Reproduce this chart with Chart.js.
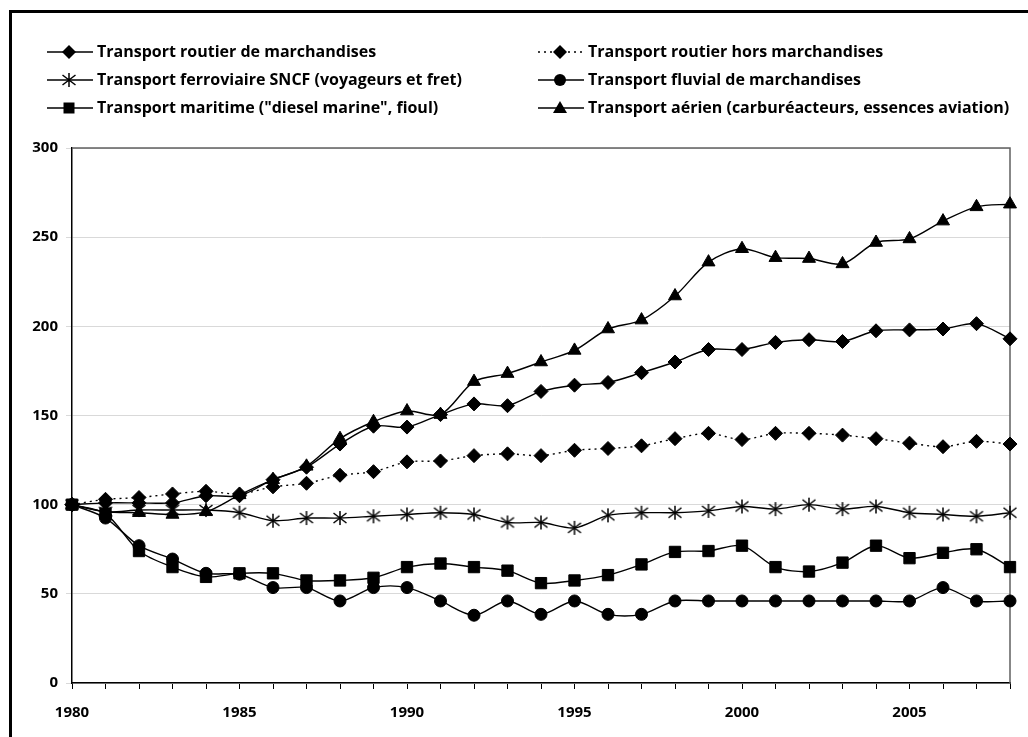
<!DOCTYPE html>
<html lang="fr">
<head>
<meta charset="utf-8">
<title>Consommation d'énergie des transports (base 100 en 1980)</title>
<script src="https://cdn.jsdelivr.net/npm/chart.js@4.4.1/dist/chart.umd.min.js"></script>
<style>
  body { margin: 0; background: #fff; }
  canvas { display: block; }
</style>
</head>
<body>
<canvas id="grafico" width="1028" height="737"></canvas>
<script>
// Années (catégories de l'axe horizontal)
const annees = [1980, 1981, 1982, 1983, 1984, 1985, 1986, 1987, 1988, 1989,
  1990, 1991, 1992, 1993, 1994, 1995, 1996, 1997, 1998, 1999,
  2000, 2001, 2002, 2003, 2004, 2005, 2006, 2007, 2008];

// Indices base 100 en 1980
const routierMarchandises = [100, 101, 101, 101, 105, 105, 114, 121, 134, 144,
  143.5, 150.5, 156.5, 155.5, 163.5, 167, 168.5, 174, 180, 187,
  187, 191, 192.5, 191.5, 197.5, 198, 198.5, 201.5, 193];
const routierHorsMarchandises = [100, 103, 104, 106, 107.5, 106, 110, 112, 116.5, 118.5,
  124, 124.5, 127.5, 128.5, 127.5, 130.5, 131.5, 133, 137, 140,
  136.5, 140, 140, 139, 137, 134.5, 132.5, 135.5, 134];
const ferroviaireSNCF = [100, 96, 97, 97, 97, 95.5, 91, 92.5, 92.5, 93.5,
  94.5, 95.5, 94.5, 90, 90, 87, 94, 95.5, 95.5, 96.5,
  99, 97.5, 100, 97.5, 99, 95.5, 94.5, 93.5, 95.5];
const fluvialMarchandises = [100, 92.5, 77, 69.5, 61.5, 61, 53.5, 53.5, 46, 53.5,
  53.5, 46, 38, 46, 38.5, 46, 38.5, 38.5, 46, 46,
  46, 46, 46, 46, 46, 46, 53.5, 46, 46];
const maritime = [100, 95, 74, 65, 59.5, 61.5, 61.5, 57.5, 57.5, 59,
  65, 67, 65, 63, 56, 57.5, 60.5, 66.5, 73.5, 74,
  77, 65, 62.5, 67.5, 77, 70, 73, 75, 65];
const aerien = [100, 96, 95.5, 94.5, 96, 105.5, 114, 121.5, 137, 146.5,
  152.5, 150.5, 169, 173.5, 180, 186.5, 198.5, 203.5, 217, 236,
  243.5, 238.5, 238, 235, 247, 249, 259, 267, 268.5];

const famille = "'Open Sans', 'DejaVu Sans', sans-serif";
const police = { family: famille, size: 15, weight: 'bold' };

// Astérisque (pas de style équivalent dans Chart.js)
function creerEtoile() {
  const c = document.createElement('canvas');
  c.width = 16; c.height = 16;
  const g = c.getContext('2d');
  g.strokeStyle = '#000';
  g.lineWidth = 1.5;
  g.beginPath();
  g.moveTo(8, 1); g.lineTo(8, 15);
  g.moveTo(1.5, 3); g.lineTo(14.5, 13);
  g.moveTo(14.5, 3); g.lineTo(1.5, 13);
  g.stroke();
  return c;
}
const etoile = creerEtoile();

function serie(label, valeurs, style, rayon, pointilles) {
  return {
    label: label,
    data: valeurs,
    borderColor: '#000',
    borderWidth: 1.4,
    borderDash: pointilles ? [2, 4] : [],
    tension: 0.3,
    pointStyle: style,
    pointRadius: rayon,
    pointHoverRadius: rayon,
    pointBackgroundColor: '#000',
    pointBorderColor: '#000',
    pointBorderWidth: 1,
    fill: false
  };
}

// Légende sur deux colonnes, dessinée à la main
function dessinerMarqueur(ctx, style, x, y) {
  ctx.save();
  ctx.fillStyle = '#000';
  ctx.setLineDash([]);
  ctx.beginPath();
  if (style === 'rectRot') {
    ctx.moveTo(x, y - 7); ctx.lineTo(x + 7, y); ctx.lineTo(x, y + 7); ctx.lineTo(x - 7, y);
    ctx.closePath(); ctx.fill();
  } else if (style === 'circle') {
    ctx.arc(x, y, 6, 0, Math.PI * 2); ctx.fill();
  } else if (style === 'rect') {
    ctx.rect(x - 5.5, y - 5.5, 11, 11); ctx.fill();
  } else if (style === 'triangle') {
    ctx.moveTo(x, y - 7); ctx.lineTo(x + 7, y + 5); ctx.lineTo(x - 7, y + 5);
    ctx.closePath(); ctx.fill();
  } else {
    ctx.drawImage(style, x - 8, y - 8);
  }
  ctx.restore();
}

const habillage = {
  id: 'habillage',
  beforeDraw(chart) {
    const ctx = chart.ctx;
    ctx.save();
    ctx.fillStyle = '#fff';
    ctx.fillRect(0, 0, chart.width, chart.height);
    ctx.restore();
  },
  beforeDatasetsDraw(chart) {
    const ctx = chart.ctx;
    const a = chart.chartArea;
    ctx.save();
    ctx.strokeStyle = '#606060';
    ctx.lineWidth = 1.5;
    ctx.beginPath();
    ctx.moveTo(a.left, a.top);
    ctx.lineTo(a.right, a.top);
    ctx.lineTo(a.right, a.bottom);
    ctx.stroke();
    ctx.restore();
  },
  afterDraw(chart) {
    const ctx = chart.ctx;
    ctx.save();
    // cadre extérieur
    ctx.strokeStyle = '#000';
    ctx.lineWidth = 3;
    ctx.beginPath();
    ctx.moveTo(10.5, chart.height + 5);
    ctx.lineTo(10.5, 11.5);
    ctx.lineTo(chart.width + 5, 11.5);
    ctx.stroke();

    const positions = [[47, 52], [538, 52], [47, 80], [538, 80], [47, 108], [538, 108]];
    ctx.font = 'bold 16px ' + famille;
    ctx.textBaseline = 'middle';
    chart.data.datasets.forEach((ds, i) => {
      const [x, y] = positions[i];
      ctx.strokeStyle = '#000';
      ctx.lineWidth = 1.4;
      ctx.setLineDash(ds.borderDash);
      ctx.beginPath();
      ctx.moveTo(x, y);
      ctx.lineTo(x + 46, y);
      ctx.stroke();
      dessinerMarqueur(ctx, ds.pointStyle, x + 22, y);
      ctx.fillStyle = '#000';
      ctx.fillText(ds.label, x + 50, y);
    });
    ctx.restore();
  }
};

new Chart(document.getElementById('grafico'), {
  type: 'line',
  data: {
    labels: annees,
    datasets: [
      serie('Transport routier de marchandises', routierMarchandises, 'rectRot', 7, false),
      serie('Transport routier hors marchandises', routierHorsMarchandises, 'rectRot', 7, true),
      serie('Transport ferroviaire SNCF (voyageurs et fret)', ferroviaireSNCF, etoile, 8, false),
      serie('Transport fluvial de marchandises', fluvialMarchandises, 'circle', 6, false),
      serie('Transport maritime ("diesel marine", fioul)', maritime, 'rect', 8, false),
      serie('Transport aérien (carburéacteurs, essences aviation)', aerien, 'triangle', 7.5, false)
    ]
  },
  options: {
    responsive: false,
    animation: false,
    layout: { padding: { top: 148, right: 18, left: 0, bottom: 0 } },
    plugins: { legend: { display: false }, tooltip: { enabled: false } },
    scales: {
      x: {
        offset: false,
        grid: { offset: false, drawOnChartArea: false, drawTicks: true, tickLength: 6, color: '#000' },
        border: { color: '#000', width: 1.5 },
        ticks: {
          autoSkip: false, maxRotation: 0, padding: 15, color: '#000', font: police,
          callback: (v, i) => (annees[i] % 5 === 0 ? String(annees[i]) : '')
        },
        afterFit: s => { s.height = 54; }
      },
      y: {
        min: 0, max: 300,
        ticks: { stepSize: 50, padding: 8, color: '#000', font: police },
        grid: { color: '#d9d9d9', tickLength: 6 },
        border: { color: '#000', width: 1.5 },
        afterFit: s => { s.width = 72; }
      }
    }
  },
  plugins: [habillage]
});
</script>
</body>
</html>
